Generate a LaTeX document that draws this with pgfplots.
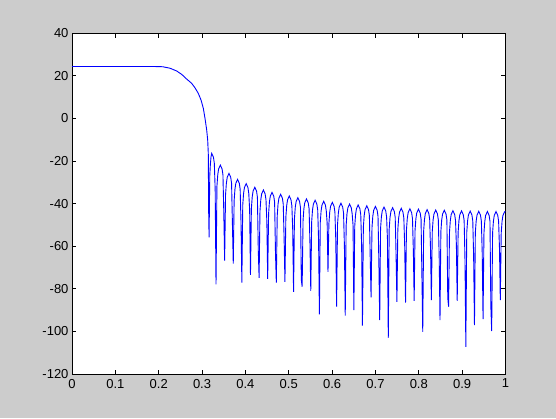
\documentclass[border=0pt]{standalone}
\usepackage{pgfplots}
\pgfplotsset{compat=1.18}
\usepackage{fontspec}
\setmainfont{Liberation Sans}
\definecolor{FigGray}{RGB}{204,204,204}
\definecolor{LineBlue}{RGB}{0,0,255}

\begin{document}
\begin{tikzpicture}[x=1pt,y=1pt]
\fill[FigGray] (0,0) rectangle (556,418);
\begin{axis}[
    at={(72pt,44pt)},
    anchor=south west,
    scale only axis,
    width=433.5pt,
    height=340.7pt,
    xmin=0, xmax=1,
    ymin=-120, ymax=40,
    xtick={0,0.1,0.2,0.3,0.4,0.5,0.6,0.7,0.8,0.9,1},
    xticklabels={0,0.1,0.2,0.3,0.4,0.5,0.6,0.7,0.8,0.9,1},
    ytick={-120,-100,-80,-60,-40,-20,0,20,40},
    yticklabels={-120,-100,-80,-60,-40,-20,0,20,40},
    tick align=inside,
    major tick length=4.3pt,
    axis background/.style={fill=white},
    axis line style={draw=black, line width=0.8pt},
    tick style={draw=black, line width=0.8pt},
    ticklabel style={font=\fontsize{13}{15}\selectfont, text=black},
    xticklabel style={yshift=-1.5pt},
]
\addplot[LineBlue, line width=0.9pt, mark=none] coordinates {
    (0,24.4) (0.05,24.4) (0.1,24.4) (0.15,24.4) (0.19,24.4) (0.2092,24.3)
    (0.2261,23.6) (0.2415,22.3) (0.2531,20.7) (0.2646,18.5) (0.2761,16.5)
    (0.2837,14.4) (0.2913,11.8) (0.2976,8.7) (0.3029,4.8) (0.3068,0.1)
    (0.3107,-5.4) (0.3130,-10.1) (0.3144,-16.4)
    (0.3152,-43.0) (0.3162,-55.8)
    (0.3178,-27.0) (0.3192,-21.5) (0.3207,-18.0) (0.3223,-16.4) (0.3263,-18.2) (0.3283,-21.0) (0.3303,-33.6) (0.3322,-77.9)
    (0.3343,-31.9) (0.3362,-26.5) (0.3382,-23.7) (0.3422,-21.9) (0.3462,-23.7) (0.3482,-26.5) (0.3502,-44.5) (0.3521,-66.8)
    (0.3542,-35.8) (0.3561,-30.4) (0.3581,-27.6) (0.3621,-25.8) (0.3661,-27.6) (0.3681,-30.4) (0.3701,-50.0) (0.3720,-68.2)
    (0.3740,-38.6) (0.3759,-33.2) (0.3779,-30.4) (0.3819,-28.6) (0.3859,-30.4) (0.3879,-33.2) (0.3899,-49.1) (0.3918,-77.1)
    (0.3939,-40.6) (0.3958,-35.2) (0.3978,-32.4) (0.4018,-30.6) (0.4058,-32.4) (0.4078,-35.2) (0.4098,-43.0) (0.4117,-73.5)
    (0.4138,-42.3) (0.4157,-36.9) (0.4177,-34.1) (0.4217,-32.3) (0.4257,-34.1) (0.4277,-36.9) (0.4297,-61.8) (0.4316,-74.8)
    (0.4336,-43.6) (0.4355,-38.2) (0.4375,-35.4) (0.4415,-33.6) (0.4455,-35.4) (0.4475,-38.2) (0.4495,-48.5) (0.4514,-75.3)
    (0.4535,-44.7) (0.4554,-39.3) (0.4574,-36.5) (0.4614,-34.7) (0.4654,-36.5) (0.4674,-39.3) (0.4694,-63.2) (0.4713,-77.1)
    (0.4734,-45.6) (0.4753,-40.2) (0.4773,-37.4) (0.4813,-35.6) (0.4853,-37.4) (0.4873,-40.2) (0.4893,-56.6) (0.4912,-76.7)
    (0.4933,-46.4) (0.4952,-41.0) (0.4972,-38.2) (0.5012,-36.4) (0.5052,-38.2) (0.5072,-41.0) (0.5092,-52.7) (0.5111,-81.4)
    (0.5131,-47.2) (0.5150,-41.8) (0.5170,-39.0) (0.5210,-37.2) (0.5250,-39.0) (0.5270,-41.8) (0.5290,-75.9) (0.5309,-79.0)
    (0.5330,-47.8) (0.5349,-42.4) (0.5369,-39.6) (0.5409,-37.8) (0.5449,-39.6) (0.5469,-42.4) (0.5489,-58.6) (0.5508,-80.9)
    (0.5529,-48.4) (0.5548,-43.0) (0.5568,-40.2) (0.5608,-38.4) (0.5648,-40.2) (0.5668,-43.0) (0.5688,-57.1) (0.5707,-92.0)
    (0.5727,-48.9) (0.5746,-43.5) (0.5766,-40.7) (0.5806,-38.9) (0.5846,-40.7) (0.5866,-43.5) (0.5886,-49.2) (0.5905,-72.0)
    (0.5926,-49.4) (0.5945,-44.0) (0.5965,-41.2) (0.6005,-39.4) (0.6045,-41.2) (0.6065,-44.0) (0.6085,-57.1) (0.6104,-88.4)
    (0.6125,-49.8) (0.6144,-44.4) (0.6164,-41.6) (0.6204,-39.8) (0.6244,-41.6) (0.6264,-44.4) (0.6284,-59.9) (0.6303,-92.6)
    (0.6324,-50.2) (0.6343,-44.8) (0.6363,-42.0) (0.6403,-40.2) (0.6443,-42.0) (0.6463,-44.8) (0.6483,-50.0) (0.6502,-90.0)
    (0.6522,-50.6) (0.6541,-45.2) (0.6561,-42.4) (0.6601,-40.6) (0.6641,-42.4) (0.6661,-45.2) (0.6681,-59.4) (0.6700,-97.3)
    (0.6721,-51.0) (0.6740,-45.6) (0.6760,-42.8) (0.6800,-41.0) (0.6840,-42.8) (0.6860,-45.6) (0.6880,-66.2) (0.6899,-84.0)
    (0.6920,-51.3) (0.6939,-45.9) (0.6959,-43.1) (0.6999,-41.3) (0.7039,-43.1) (0.7059,-45.9) (0.7079,-67.7) (0.7098,-94.7)
    (0.7118,-51.6) (0.7137,-46.2) (0.7157,-43.4) (0.7197,-41.6) (0.7237,-43.4) (0.7257,-46.2) (0.7277,-56.8) (0.7296,-103.0)
    (0.7317,-51.9) (0.7336,-46.5) (0.7356,-43.7) (0.7396,-41.9) (0.7436,-43.7) (0.7456,-46.5) (0.7476,-64.6) (0.7495,-86.1)
    (0.7516,-52.2) (0.7535,-46.8) (0.7555,-44.0) (0.7595,-42.2) (0.7635,-44.0) (0.7655,-46.8) (0.7675,-60.2) (0.7694,-86.5)
    (0.7715,-52.4) (0.7734,-47.0) (0.7754,-44.2) (0.7794,-42.4) (0.7834,-44.2) (0.7854,-47.0) (0.7874,-61.8) (0.7893,-85.6)
    (0.7913,-52.6) (0.7932,-47.2) (0.7952,-44.4) (0.7992,-42.6) (0.8032,-44.4) (0.8052,-47.2) (0.8072,-74.3) (0.8091,-100.2)
    (0.8112,-52.8) (0.8131,-47.4) (0.8151,-44.6) (0.8191,-42.8) (0.8231,-44.6) (0.8251,-47.4) (0.8271,-61.8) (0.8290,-85.3)
    (0.8311,-53.0) (0.8330,-47.6) (0.8350,-44.8) (0.8390,-43.0) (0.8430,-44.8) (0.8450,-47.6) (0.8470,-64.9) (0.8489,-94.7)
    (0.8509,-53.1) (0.8528,-47.7) (0.8548,-44.9) (0.8588,-43.1) (0.8628,-44.9) (0.8648,-47.7) (0.8668,-84.2) (0.8687,-88.4)
    (0.8708,-53.3) (0.8727,-47.9) (0.8747,-45.1) (0.8787,-43.3) (0.8827,-45.1) (0.8847,-47.9) (0.8867,-59.4) (0.8886,-85.6)
    (0.8907,-53.4) (0.8926,-48.0) (0.8946,-45.2) (0.8986,-43.4) (0.9026,-45.2) (0.9046,-48.0) (0.9066,-67.3) (0.9085,-107.2)
    (0.9106,-53.5) (0.9125,-48.1) (0.9145,-45.3) (0.9185,-43.5) (0.9225,-45.3) (0.9245,-48.1) (0.9265,-64.9) (0.9284,-97.0)
    (0.9304,-53.6) (0.9323,-48.2) (0.9343,-45.4) (0.9383,-43.6) (0.9423,-45.4) (0.9443,-48.2) (0.9463,-63.3) (0.9482,-94.2)
    (0.9503,-53.7) (0.9522,-48.3) (0.9542,-45.5) (0.9582,-43.7) (0.9622,-45.5) (0.9642,-48.3) (0.9662,-88.4) (0.9681,-99.8)
    (0.9702,-53.7) (0.9721,-48.3) (0.9741,-45.5) (0.9781,-43.7) (0.9821,-45.5) (0.9841,-48.3) (0.9861,-61.0) (0.9880,-85.3)
    (0.9901,-53.8) (0.9920,-48.4) (0.9940,-45.6) (0.9980,-43.8) (1.0,-43.9)
};
\end{axis}
\end{tikzpicture}
\end{document}
